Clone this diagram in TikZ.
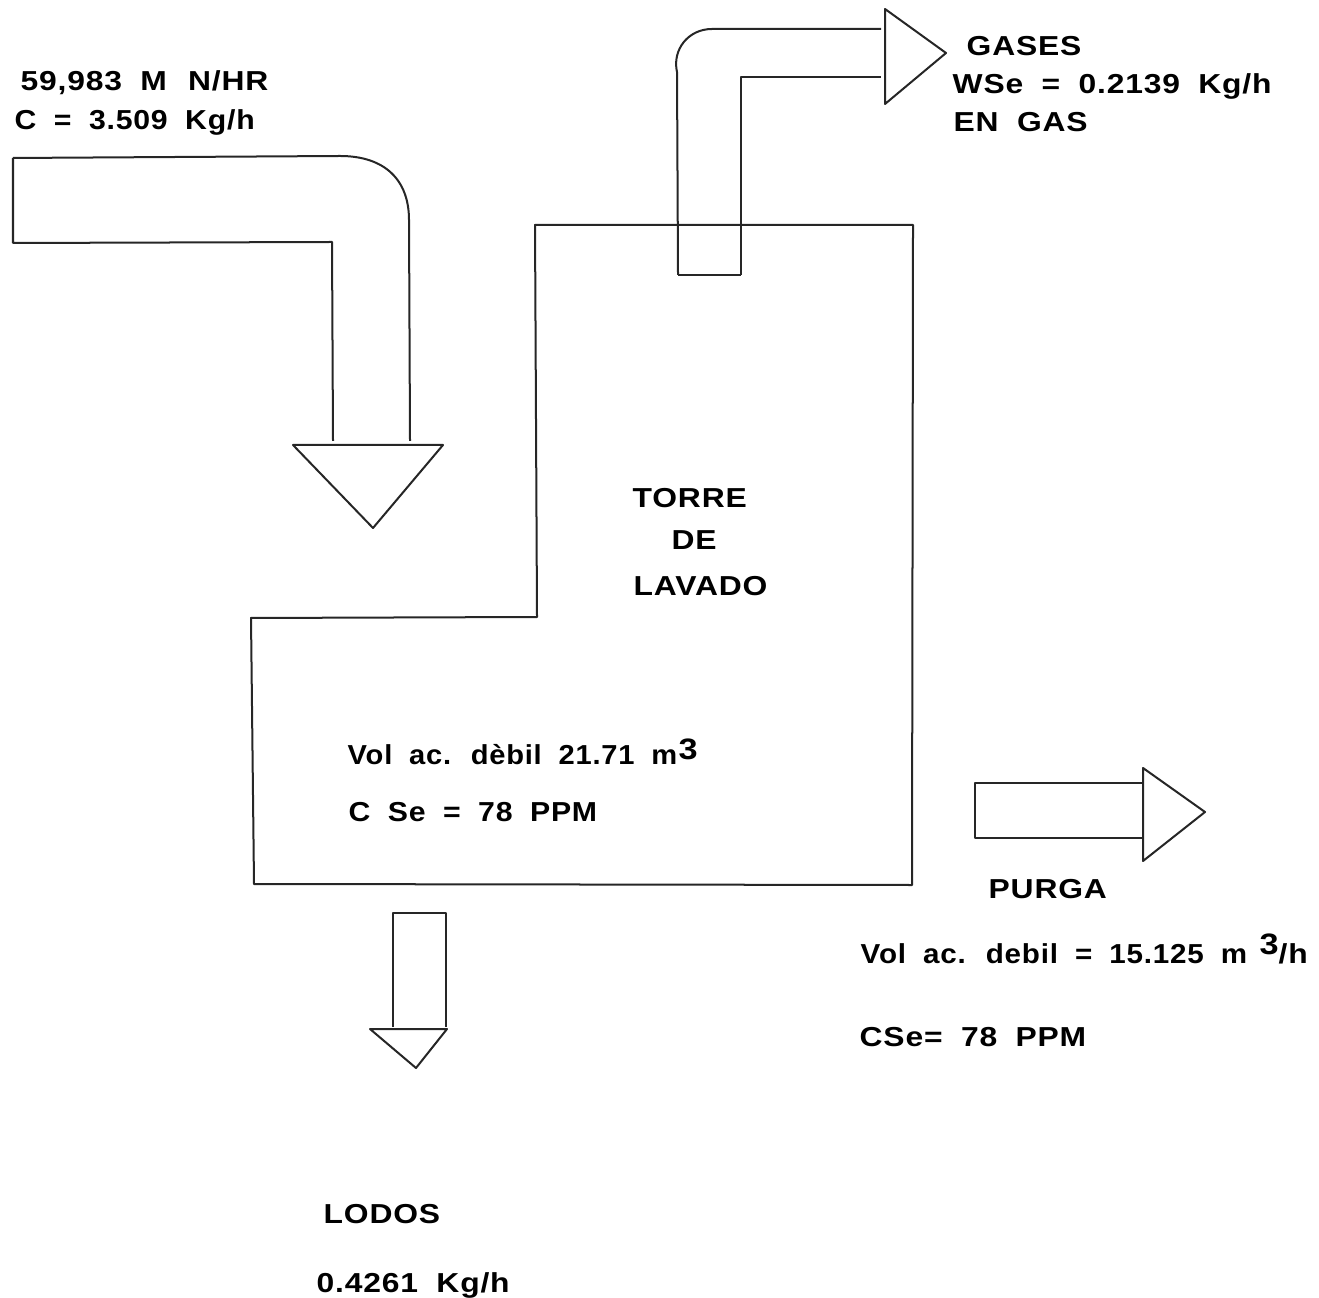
\documentclass[tikz,border=0pt]{standalone}
\usepackage{fontspec}
\setmainfont[FakeStretch=1.16,LetterSpace=3,WordSpace=1.9,BoldFont={Liberation Sans Bold}]{Liberation Sans}
\usepackage{tikz}
\newcommand{\narrowtxt}[2][0.92]{\scalebox{#1}[1]{#2}}
\tikzset{
lbl/.style={anchor=west,inner sep=0pt,font=\fontsize{7.8}{8}\selectfont\bfseries},
expo/.style={anchor=west,inner sep=0pt,font=\fontsize{8.4}{9}\selectfont\bfseries},
pipe/.style={draw=black!85,line width=0.2mm,line join=round}
}
\begin{document}
\begin{tikzpicture}[x=0.01cm,y=-0.01cm]
\useasboundingbox (0,0) rectangle (1319,1298);
% entrada
\draw[pipe] (13,158) -- (340,156) .. controls (385,156) and (409,180) .. (409,220) -- (410,441);
\draw[pipe] (13,158) -- (13,243) -- (332,242) -- (333,441);
\draw[pipe] (293,445) -- (443,445) -- (373,528) -- cycle;
% torre
\draw[pipe] (535,225) -- (913,225) -- (912,885) -- (254,884) -- (251,618) -- (537,617) -- cycle;
% gases
\draw[pipe] (678,275) -- (677,72) .. controls (672,50) and (688,29) .. (712,29) -- (881,29);
\draw[pipe] (741,275) -- (741,77) -- (881,77);
\draw[pipe] (678,275) -- (741,275);
\draw[pipe] (885,9) -- (946,53) -- (885,104) -- cycle;
% purga
\draw[pipe] (1143,783) -- (975,783) -- (975,838) -- (1143,838);
\draw[pipe] (1143,768) -- (1205,812) -- (1143,861) -- cycle;
% lodos
\draw[pipe] (393,1027) -- (393,913) -- (446,913) -- (446,1027);
\draw[pipe] (370,1029) -- (447,1029) -- (416,1068) -- cycle;
% textos
\node[lbl] (caudal) at (20,83) {59,983 M\hspace{6pt}N/HR};
\node[lbl] (carbono) at (14,122) {\narrowtxt[0.95]{C = 3.509 Kg/h}};
\node[lbl] (gases) at (966,46) {GASES};
\node[lbl] (wse) at (952,86) {WSe = 0.2139 Kg/h};
\node[lbl] (engas) at (953,122) {EN GAS};
\node[lbl] (torre) at (632,498) {TORRE};
\node[lbl] (de) at (671,540) {DE};
\node[lbl] (lavado) at (633,586) {LAVADO};
\node[lbl] (vol) at (347,755) {\narrowtxt[0.915]{Vol ac. dèbil 21.71 m}};
\node[expo] (volexp) at (678,749) {3};
\node[lbl] (cse) at (348,812) {\narrowtxt[0.95]{C Se = 78 PPM}};
\node[lbl] (purga) at (988,889) {PURGA};
\node[lbl] (volpurga) at (860,954) {\narrowtxt[0.93]{Vol ac. debil = 15.125 m}};
\node[expo] (purgaexp) at (1259,944) {3};
\node[lbl] (porh) at (1278,954) {/h};
\node[lbl] (csepurga) at (859,1037) {CSe= 78 PPM};
\node[lbl] (lodos) at (323,1214) {LODOS};
\node[lbl] (masa) at (316,1285) {0.4261 Kg/h};
\end{tikzpicture}
\end{document}
